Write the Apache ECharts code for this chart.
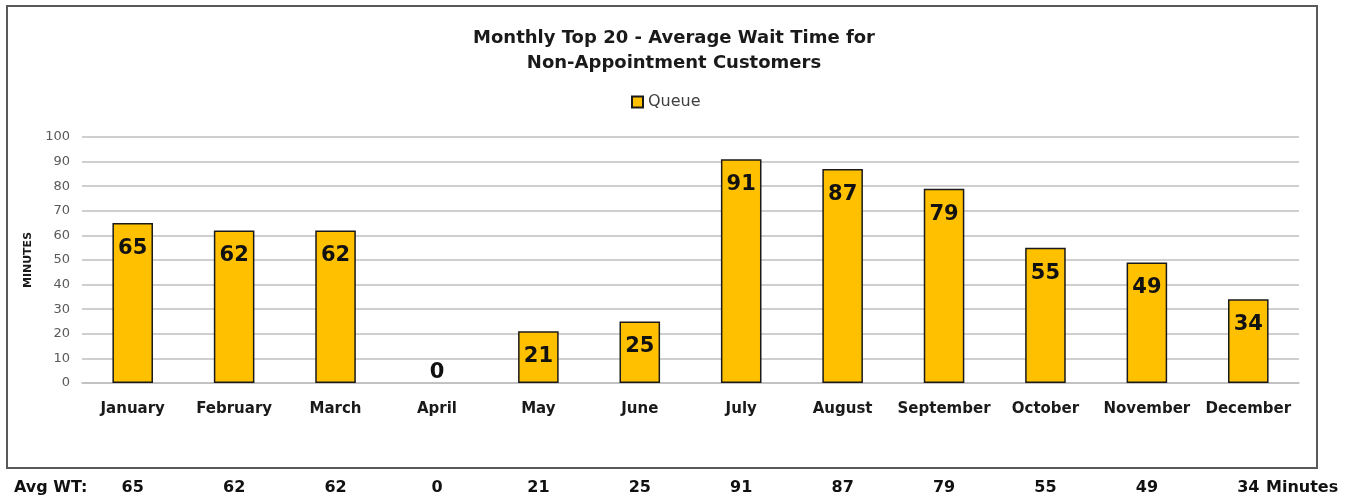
<!DOCTYPE html>
<html lang="en">
<head>
    <meta charset="utf-8">
    <title>Monthly Top 20 - Average Wait Time</title>
    <script src="https://cdn.jsdelivr.net/npm/echarts@6/dist/echarts.min.js"></script>
    <style>
        html, body { margin: 0; padding: 0; background: #fff; }
        #chart { width: 1353px; height: 500px; }
    </style>
</head>
<body>
<div id="chart"></div>
<script>
    // data
    var months = ['January', 'February', 'March', 'April', 'May', 'June',
        'July', 'August', 'September', 'October', 'November', 'December'];
    var queue = [65, 62, 62, 0, 21, 25, 91, 87, 79, 55, 49, 34];
    var yTicks = { min: 0, max: 100, interval: 10 };

    var font = '"DejaVu Sans", sans-serif';

    var chart = echarts.init(document.getElementById('chart'));
    chart.setOption({
        animation: false,
        textStyle: { fontFamily: font },
        title: {
            text: 'Monthly Top 20 - Average Wait Time for\nNon-Appointment Customers',
            left: 669,
            textAlign: 'center',
            top: 21,
            textStyle: { fontSize: 18, fontWeight: 'bold', color: '#1a1a1a', lineHeight: 25, fontFamily: font }
        },
        legend: {
            data: ['Queue'],
            top: 89,
            left: 626,
            icon: 'rect',
            itemWidth: 11,
            itemHeight: 11,
            itemGap: 4,
            textStyle: { fontSize: 16, color: '#404040', fontFamily: font }
        },
        grid: { left: 82, right: 54, top: 137, bottom: 117 },
        xAxis: [
            {
                type: 'category',
                data: months,
                axisTick: { show: false },
                axisLine: { lineStyle: { color: '#bfbfbf', width: 1.5 } },
                axisLabel: { interval: 0, margin: 19, fontSize: 15, fontWeight: 'bold', color: '#1a1a1a' }
            },
            {
                // bottom row of averages, outside the frame
                type: 'category',
                position: 'bottom',
                offset: 80,
                data: queue.map(String),
                axisTick: { show: false },
                axisLine: { show: false },
                axisLabel: { interval: 0, margin: 17, fontSize: 16, fontWeight: 'bold', color: '#111' }
            }
        ],
        yAxis: {
            type: 'value',
            min: yTicks.min,
            max: yTicks.max,
            interval: yTicks.interval,
            name: 'MINUTES',
            nameLocation: 'middle',
            nameRotate: 90,
            nameGap: 48,
            nameTextStyle: { fontSize: 11, fontWeight: 'bold', color: '#1a1a1a' },
            axisLabel: { margin: 12, fontSize: 13, color: '#595959' },
            splitLine: { lineStyle: { color: '#bfbfbf', width: 1.5 } }
        },
        series: [
            {
                name: 'Queue',
                type: 'bar',
                xAxisIndex: 0,
                barWidth: '40%',
                itemStyle: { color: '#ffc000', borderColor: '#1a1a1a', borderWidth: 1.5 },
                label: {
                    show: true,
                    position: 'insideTop',
                    distance: 15,
                    fontSize: 21,
                    fontWeight: 'bold',
                    color: '#111'
                },
                data: queue.map(function (v) {
                    if (v === 0) {
                        // empty month: no outline, value sits on the axis
                        return { value: v, itemStyle: { borderWidth: 0 }, label: { position: 'top', distance: 0 } };
                    }
                    return v;
                })
            }
        ],
        graphic: [
            {
                type: 'rect',
                shape: { x: 7, y: 6, width: 1310, height: 462 },
                style: { fill: 'none', stroke: '#595959', lineWidth: 2 }
            },
            {
                type: 'text',
                x: 14,
                y: 488,
                style: { text: 'Avg WT:', font: 'bold 16px ' + font, fill: '#111', textVerticalAlign: 'middle' }
            },
            {
                type: 'text',
                x: 1266,
                y: 488,
                style: { text: 'Minutes', font: 'bold 16px ' + font, fill: '#111', textVerticalAlign: 'middle' }
            }
        ]
    });
</script>
</body>
</html>
